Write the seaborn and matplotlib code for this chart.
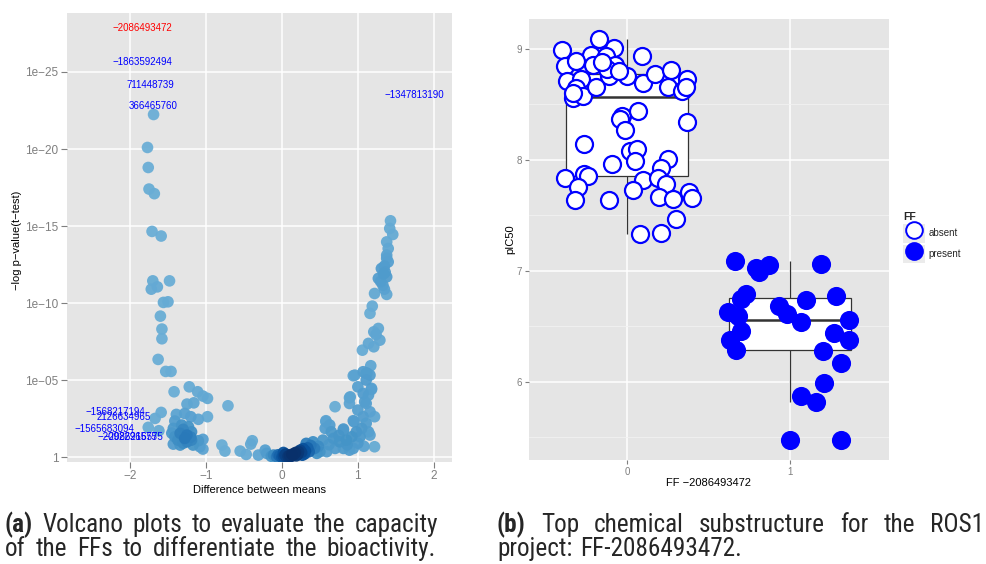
import numpy as np
import pandas as pd
import matplotlib
matplotlib.use("Agg")
import matplotlib.pyplot as plt
import matplotlib.font_manager as fm
from matplotlib.colors import LinearSegmentedColormap
from matplotlib.lines import Line2D
from matplotlib.patches import Rectangle
from matplotlib.legend_handler import HandlerTuple
import seaborn as sns

# ---------------- data: volcano plot (a) ----------------
diff_means = [
    -1.69, -1.77, -1.76, -1.75, -1.68, -1.71, -1.59, -1.70, -1.48, -1.72, -1.64, -1.56, -1.50, -1.60,
    -1.58, -1.58, -1.63, -1.53, -1.46,
    -1.42, -1.22, -1.11, -1.04, -0.98, -0.71, -1.25, -1.16, -1.59, -1.67, -1.39, -1.28, -1.20, -1.10,
    -0.98, -1.41, -1.76, -1.62, -1.43, -1.32, -1.23, -1.34, -1.25, -1.19, -1.41, -1.43, -1.34, -1.25,
    -1.17, -1.08, -1.04, -1.10, -1.19, -1.28, -1.04, -1.30, -1.37, -1.45, -1.30, -1.20,
    -0.79, -0.75, -0.55, -0.47, -0.39, -0.41, -0.31, -0.22,
    -0.20, -0.14, -0.11, -0.07, -0.03, 0.00, 0.02, 0.04, 0.06, 0.08, 0.10, 0.12, 0.15, 0.17, 0.19,
    0.21, 0.24, 0.26, 0.28, 0.30, 0.32, 0.34, 0.36, 0.38, 0.41, 0.43, 0.46, 0.48, 0.50, 0.05, 0.13,
    0.22, -0.05, 0.09, 0.27, 0.31, 0.18, 0.02,
    0.59, 0.54, 0.57, 0.58, 0.65, 0.70, 0.68, 0.76, 0.81, 0.85, 0.92, 0.94, 0.89, 0.95, 0.98, 1.03,
    1.05, 1.07, 1.11, 1.14, 1.16, 1.22, 1.22, 1.16, 1.11, 1.00, 0.89, 0.90, 1.00, 1.07, 1.18, 0.96,
    1.11, 1.16, 0.63, 0.81, 0.70, 0.58, 0.81, 0.94, 1.09, 1.14, 0.89, 0.62, 0.75, 0.86, 1.00, 1.08,
    1.06, 1.21, 1.14, 1.29, 1.21, 1.27, 1.24, 1.16, 1.19, 1.22, 1.38, 1.33, 1.35, 1.27, 1.38, 1.31,
    1.36, 1.40, 1.35, 1.38, 1.40, 1.38, 1.46, 1.42, 1.43, 1.17, 1.07, 1.12, 0.94, 1.11, 1.18, 1.38,
    1.34, 1.30,
]
neg_log_p = [
    22.24, 20.10, 18.80, 17.40, 17.10, 14.65, 14.35, 11.44, 11.44, 10.90, 11.05, 10.04, 10.08, 9.15,
    8.31, 7.68, 6.34, 5.56, 5.56,
    4.24, 4.56, 4.24, 3.96, 3.81, 3.33, 3.44, 3.52, 2.90, 2.51, 2.77, 2.83, 2.62, 2.45,
    2.62, 2.34, 1.93, 1.71, 1.86, 2.08, 1.97, 1.54, 1.43, 1.64, 1.32, 0.84, 0.78, 0.99,
    0.78, 0.67, 1.15, 1.06, 1.10, 1.21, 0.52, 1.80, 1.10, 1.55, 0.90, 1.30,
    0.78, 0.39, 0.39, 0.17, 1.06, 0.84, 0.13, 0.45,
    0.24, 0.05, 0.13, 0.02, 0.08, 0.00, 0.05, 0.12, 0.02, 0.06, 0.10, 0.03, 0.13, 0.24, 0.08,
    0.18, 0.45, 0.30, 0.55, 0.20, 0.89, 0.60, 0.35, 0.75, 0.99, 0.56, 0.24, 0.70, 0.35, 0.20, 0.18,
    0.35, 0.15, 0.00, 0.12, 0.40, 0.30, 0.30,
    0.35, 1.10, 1.86, 2.36, 1.64, 3.27, 1.21, 0.99, 1.75, 1.10, 1.32, 0.56, 0.45, 2.29, 1.64, 1.32,
    1.86, 2.62, 2.19, 1.64, 1.43, 0.67, 2.62, 2.94, 3.48, 3.05, 3.48, 3.91, 4.56, 4.13, 4.46, 5.32,
    5.43, 5.32, 2.08, 0.56, 0.56, 2.29, 1.82, 2.36, 3.59, 4.02, 3.85, 0.80, 1.40, 0.80, 0.90, 0.70,
    6.94, 7.16, 7.38, 7.59, 8.13, 8.35, 7.95, 9.33, 9.80, 10.62, 10.56, 11.16, 10.90, 11.60, 11.70, 12.24,
    12.00, 12.67, 12.40, 13.11, 13.54, 13.97, 14.45, 14.84, 15.34, 5.93, 5.54, 5.45, 5.28, 5.00, 4.39, 12.90,
    11.90, 11.40,
]

ff_labels = ["\u22122086493472", "\u22121863592494", "711448739", "366465760", "\u22121347813190",
             "\u22121568217194", "2126634965", "\u22121565683094", "\u22122092296575", "\u22122086216575"]
ff_label_x = [-1.84, -1.84, -1.73, -1.69, 1.74, -2.19, -2.08, -2.34, -2.03, -1.96]
ff_label_y = [27.86, 25.65, 24.16, 22.80, 23.50, 2.92, 2.60, 1.82, 1.30, 1.30]
ff_label_color = ["red"] + ["blue"] * 9

volcano_xticks = [-2, -1, 0, 1, 2]
volcano_xticklabels = ["\u22122", "\u22121", "0", "1", "2"]
volcano_yticks = [0, 5, 10, 15, 20, 25]
volcano_yticklabels = ["1", "1e\u221205", "1e\u221210", "1e\u221215", "1e\u221220", "1e\u221225"]

# ---------------- data: boxplot (b) ----------------
absent_pic50 = [
    8.99, 9.09, 9.01, 8.95, 8.85, 8.89, 8.86, 8.94, 8.85, 8.86, 8.76, 8.76, 8.94, 8.71, 8.73, 8.65,
    8.56, 8.58, 8.66, 8.69, 8.77, 8.81, 8.66, 8.73, 8.64, 8.62, 8.34, 8.40, 8.37, 8.44, 8.27, 8.14,
    8.08, 8.10, 7.99, 7.96, 8.01, 7.93, 7.84, 7.87, 7.86, 7.76, 7.64, 7.64, 7.82, 7.84, 7.78, 7.73,
    7.67, 7.65, 7.71, 7.66, 7.47, 7.33, 7.34, 8.82, 8.88, 8.66, 8.60, 8.80,
]
absent_jitter = [
    -0.40, -0.17, -0.08, -0.22, -0.38, -0.31, -0.21, -0.13, -0.13, -0.07, -0.11, 0.00, 0.09, -0.37,
    -0.28, -0.31, -0.33, -0.27, -0.19, 0.10, 0.17, 0.27, 0.25, 0.37, 0.35, 0.34, 0.37, -0.03, -0.04,
    0.07, -0.01, -0.26, 0.02, 0.06, 0.05, -0.09, 0.25, 0.21, -0.38, -0.26, -0.24, -0.30, -0.32, -0.11,
    0.10, 0.19, 0.24, 0.04, 0.20, 0.28, 0.38, 0.40, 0.30, 0.08, 0.21, -0.12, -0.15, 0.36, -0.33, -0.05,
]
present_pic50 = [
    7.09, 7.03, 7.05, 6.99, 7.06, 6.79, 6.75, 6.74, 6.77, 6.63, 6.59, 6.68, 6.61, 6.54, 6.56, 6.46,
    6.38, 6.29, 6.44, 6.38, 6.28, 6.17, 5.99, 5.87, 5.82, 5.48, 5.48,
]
present_jitter = [
    -0.34, -0.21, -0.13, -0.19, 0.19, -0.27, -0.30, 0.10, 0.28, -0.38, -0.32, -0.07, -0.02, 0.07,
    0.36, -0.30, -0.37, -0.33, 0.27, 0.36, 0.20, 0.31, 0.21, 0.07, 0.16, 0.00, 0.31,
]
ff_groups = ["absent", "present"]
box_yticks = [6, 7, 8, 9]
box_xticks = [0, 1]

# ---------------- style ----------------
sns.set_theme(style="darkgrid")
plt.rcParams["font.family"] = ["Liberation Sans", "DejaVu Sans"]
plt.rcParams["axes.unicode_minus"] = True

W, H = 986, 564
fig = plt.figure(figsize=(W / 100, H / 100), dpi=100)
fig.patch.set_facecolor("white")


def axrect(l, t, r, b):
    return [l / W, 1 - b / H, (r - l) / W, (b - t) / H]


BG = "#E5E5E5"
TICKC = "#7F7F7F"

# ---------------- panel (a) ----------------
axL = fig.add_axes(axrect(67, 13, 452, 462))
vx = np.array(diff_means)
vy = np.array(neg_log_p)
px, py = vx * 76.0, vy * 15.4
d2 = (px[:, None] - px[None, :]) ** 2 + (py[:, None] - py[None, :]) ** 2
dens = np.exp(-d2 / (2 * 9.0 ** 2)).sum(axis=1)
dens = ((dens - dens.min()) / (dens.max() - dens.min())) ** 1.3
dfv = pd.DataFrame({"diff": vx, "nlp": vy, "dens": dens}).sort_values("dens")
cmap = LinearSegmentedColormap.from_list(
    "dens", [(0.0, "#6BAED6"), (0.2, "#559FCF"), (0.4, "#4292C6"), (0.6, "#2171B5"),
             (0.8, "#08519C"), (1.0, "#08306B")])
sns.scatterplot(data=dfv, x="diff", y="nlp", hue="dens", palette=cmap, hue_norm=(0, 1),
                s=70, linewidth=0, alpha=0.95, legend=False, ax=axL, zorder=3)
for lx, ly, lt, lc in zip(ff_label_x, ff_label_y, ff_labels, ff_label_color):
    axL.text(lx, ly, lt, color=lc, fontsize=7, ha="center", va="center", zorder=4)

axL.set_facecolor(BG)
axL.set_xlim(-2.83, 2.24)
axL.set_ylim(-0.32, 28.83)
axL.set_xticks(volcano_xticks)
axL.set_xticklabels(volcano_xticklabels)
axL.set_yticks(volcano_yticks)
axL.set_yticklabels(volcano_yticklabels)
axL.grid(True, color="white", linewidth=1.1)
axL.tick_params(axis="both", colors=TICKC, labelsize=8.5, length=4, width=0.8,
                direction="out", pad=2, bottom=True, left=True)
for s in axL.spines.values():
    s.set_visible(False)
axL.set_xlabel("Difference between means", fontsize=8, color="black")
axL.xaxis.set_label_coords(0.5, -(490 - 462) / 449)
axL.xaxis.label.set_va("center")
axL.set_ylabel("\u2212log p\u2212value(t\u2212test)", fontsize=8, color="black")
axL.yaxis.set_label_coords((17 - 67) / 385, (462 - 240) / 449)
axL.yaxis.label.set_va("center")

# ---------------- panel (b) ----------------
axR = fig.add_axes(axrect(529, 19, 889, 460))
dfb = pd.DataFrame({
    "FF": [0] * len(absent_pic50) + [1] * len(present_pic50),
    "pIC50": absent_pic50 + present_pic50,
})
sns.boxplot(data=dfb, x="FF", y="pIC50", native_scale=True, orient="x", width=0.75,
            color="white", saturation=1, linecolor="#333333", linewidth=0.9,
            showcaps=False, showfliers=False, medianprops={"linewidth": 1.8},
            ax=axR, zorder=2)
ab_x = np.array(absent_jitter) + 0
pr_x = np.array(present_jitter) + 1
sns.scatterplot(x=ab_x, y=absent_pic50, color="white", edgecolor="blue", linewidth=1.6,
                s=150, ax=axR, zorder=3)
sns.scatterplot(x=pr_x, y=present_pic50, color="blue", edgecolor="blue", linewidth=0,
                s=190, ax=axR, zorder=3)

axR.set_facecolor(BG)
axR.set_xlim(-0.6, 1.607)
axR.set_ylim(5.297, 9.27)
axR.set_xticks(box_xticks)
axR.set_xticklabels([str(v) for v in box_xticks])
axR.set_yticks(box_yticks)
axR.set_yticklabels([str(v) for v in box_yticks])
axR.set_yticks([5.5, 6.5, 7.5, 8.5], minor=True)
axR.grid(True, which="major", color="white", linewidth=1.1)
axR.grid(True, which="minor", axis="y", color="#F2F2F2", linewidth=0.6)
axR.tick_params(axis="both", which="major", colors=TICKC, labelsize=7, length=3, width=0.8,
                direction="out", pad=2, bottom=True, left=True)
axR.tick_params(axis="both", which="minor", length=0)
for s in axR.spines.values():
    s.set_visible(False)
axR.set_xlabel("FF \u22122086493472", fontsize=8, color="black")
axR.xaxis.set_label_coords(0.5, -(483 - 460) / 441)
axR.xaxis.label.set_va("center")
axR.set_ylabel("pIC50", fontsize=8, color="black")
axR.yaxis.set_label_coords((510 - 529) / 360, 0.5)
axR.yaxis.label.set_va("center")

h_abs = (Rectangle((0, 0), 1, 1, facecolor="#EBEBEB", edgecolor="none"),
         Line2D([], [], marker="o", ls="", mfc="white", mec="blue", mew=1.4, ms=12))
h_pre = (Rectangle((0, 0), 1, 1, facecolor="#EBEBEB", edgecolor="none"),
         Line2D([], [], marker="o", ls="", mfc="blue", mec="blue", mew=0, ms=13.5))
leg = fig.legend(handles=[h_abs, h_pre], labels=ff_groups, title="FF",
                 handler_map={tuple: HandlerTuple(ndivide=1, pad=0)},
                 loc="upper left", bbox_to_anchor=(898 / W, 1 - 207 / H), frameon=False,
                 fontsize=7, title_fontsize=7.5, handlelength=2.3, handleheight=2.6,
                 borderpad=0, labelspacing=0.2, handletextpad=0.3, alignment="left")
leg.get_title().set_fontweight("bold")

# ---------------- captions ----------------
def pick_caption_font():
    names = {f.name for f in fm.fontManager.ttflist}
    for n in ["Liberation Sans Narrow", "Roboto Condensed", "Open Sans Condensed", "DejaVu Sans Condensed"]:
        if n in names:
            return {"family": n}
    for f in fm.fontManager.ttflist:
        if f.name == "DejaVu Sans" and "ondensed" in (str(f.stretch) + f.fname):
            return {"family": "DejaVu Sans", "stretch": "condensed"}
    return {"family": "Liberation Sans"}


capfont = pick_caption_font()
renderer = fig.canvas.get_renderer()


def widths(words, size):
    out = []
    for w, b in words:
        t = fig.text(0, 0, w, fontsize=size, fontweight="bold" if b else "normal", **capfont)
        out.append(t.get_window_extent(renderer).width)
        t.remove()
    return out


def space_w(size):
    a = fig.text(0, 0, "a a", fontsize=size, **capfont)
    b = fig.text(0, 0, "aa", fontsize=size, **capfont)
    r = a.get_window_extent(renderer).width - b.get_window_extent(renderer).width
    a.remove(); b.remove()
    return r


def to_words(text, bold_first=False):
    ws = text.split(" ")
    return [(w, bold_first and i == 0) for i, w in enumerate(ws)]


cap_a1 = to_words("(a) Volcano plots to evaluate the capacity", True)
cap_a2 = to_words("of the FFs to differentiate the bioactivity.")
cap_b1 = to_words("(b) Top chemical substructure for the ROS1", True)
cap_b2 = to_words("project: FF-2086493472.")

base = 20.0
nat = sum(widths(cap_a1, base)) + space_w(base) * (len(cap_a1) - 1)
size = base * 412.0 / nat


def place(words, x0, y_base, x1=None):
    ws = widths(words, size)
    if x1 is None:
        gap = space_w(size) * 1.3
    else:
        gap = (x1 - x0 - sum(ws)) / (len(words) - 1)
    x = x0
    for (w, b), wd in zip(words, ws):
        fig.text(x / W, 1 - y_base / H, w, fontsize=size, fontweight="bold" if b else "normal",
                 ha="left", va="baseline", **capfont)
        x += wd + gap


place(cap_a1, 5, 532, 438)
place(cap_a2, 5, 556, 436)
place(cap_b1, 497, 532, 984)
place(cap_b2, 497, 556)

fig.savefig("out.png", dpi=100, facecolor="white")
